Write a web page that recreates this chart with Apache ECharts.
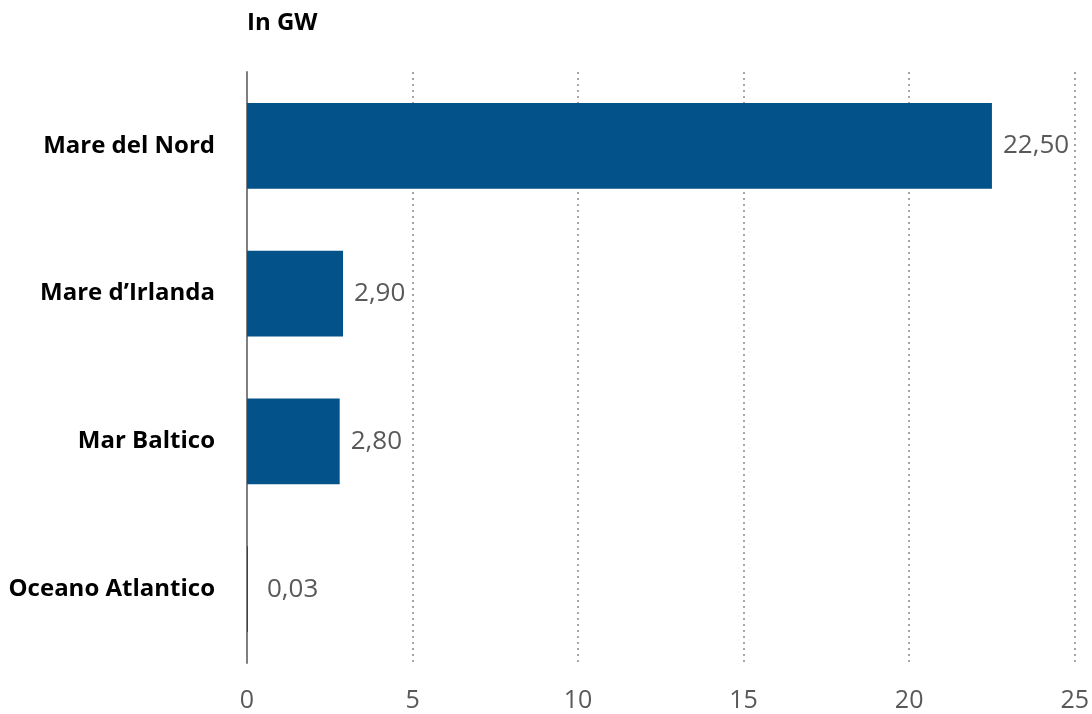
<!DOCTYPE html>
<html><head><meta charset="utf-8">
<script src="https://cdn.jsdelivr.net/npm/echarts@6/dist/echarts.min.js"></script>
<style>html,body{margin:0;padding:0;background:#fff}#c{width:1092px;height:714px}</style>
</head><body><div id="c"></div>
<script>
const categories = ["Mare del Nord", "Mare d\u2019Irlanda", "Mar Baltico", "Oceano Atlantico"];
const values = [22.50, 2.90, 2.80, 0.03];
const xTicks = [0, 5, 10, 15, 20, 25];
const unitLabel = "In GW";

const chart = echarts.init(document.getElementById('c'), null, {renderer: 'canvas'});
const fmt = v => v.toFixed(2).replace('.', ',');
const FF = '"Open Sans", sans-serif';
chart.setOption({
  animation: false,
  backgroundColor: '#fff',
  textStyle: {fontFamily: FF},
  title: {text: unitLabel, left: 242, top: 6,
    textStyle: {fontFamily: FF, fontWeight: 'bold', fontSize: 24, color: '#000'}},
  grid: {left: 247, right: 17, top: 72, bottom: 51, containLabel: false},
  xAxis: {type: 'value', min: xTicks[0], max: xTicks[xTicks.length-1], interval: 5,
    axisLine: {show: false}, axisTick: {show: false},
    axisLabel: {fontSize: 25, color: '#595959', margin: 25, fontFamily: FF},
    splitLine: {show: true, lineStyle: {type: [2, 4], color: '#a6a6a6', width: 2}}},
  yAxis: {type: 'category', data: categories, inverse: true,
    axisLine: {show: true, lineStyle: {color: '#7f7f7f', width: 2}},
    axisTick: {show: false},
    axisLabel: {fontSize: 24, fontWeight: 'bold', color: '#000', margin: 32, fontFamily: FF}},
  series: [{type: 'bar', barWidth: '58%',
    data: values.map(v => v < 0.5 ? {value: v, label: {distance: 19}} : v),
    itemStyle: {color: '#03538A'},
    label: {show: true, position: 'right', distance: 11, fontSize: 26, color: '#595959',
      fontFamily: FF, formatter: p => fmt(p.value)}}]
});
</script></body></html>
